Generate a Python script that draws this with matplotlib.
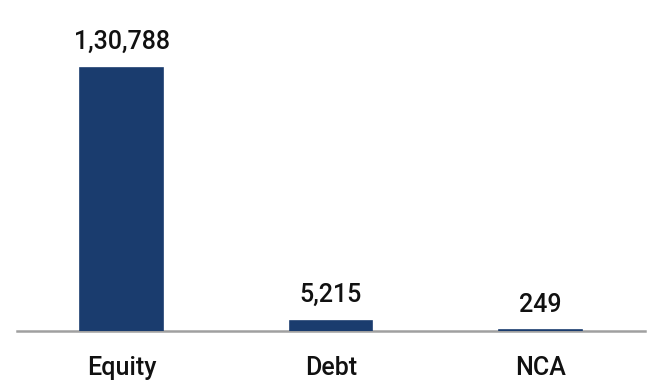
import matplotlib.pyplot as plt

categories = ["Equity", "Debt", "NCA"]
values = [130788, 5215, 249]
labels = ["1,30,788", "5,215", "249"]

plt.rcParams["font.family"] = ["Roboto", "DejaVu Sans"]

fig = plt.figure(figsize=(6.53, 3.92), dpi=100)
ax = fig.add_axes([17 / 653, 61 / 392, 628 / 653, 331 / 392])

x = range(len(categories))
bars = ax.bar(x, values, width=0.395, color="#1a3c6e",
              edgecolor="#1a3c6e", linewidth=1.2, zorder=3)

ax.set_xlim(-0.5, 2.5)
ax.set_ylim(0, 130788 * 331 / 263)

for b, lab in zip(bars, labels):
    ax.annotate(lab, (b.get_x() + b.get_width() / 2, b.get_height()),
                xytext=(0, 10), textcoords="offset points",
                ha="center", va="bottom", fontsize=18, fontweight="medium",
                color="#111111")

for s in ["top", "right", "left"]:
    ax.spines[s].set_visible(False)
ax.spines["bottom"].set_color("#a0a0a0")
ax.spines["bottom"].set_linewidth(1.8)

ax.set_yticks([])
ax.set_xticks(list(x))
ax.set_xticklabels(categories, fontsize=18, fontweight="medium", color="#111111")
ax.tick_params(axis="x", length=0, pad=18)

fig.savefig("out.png", dpi=100)
